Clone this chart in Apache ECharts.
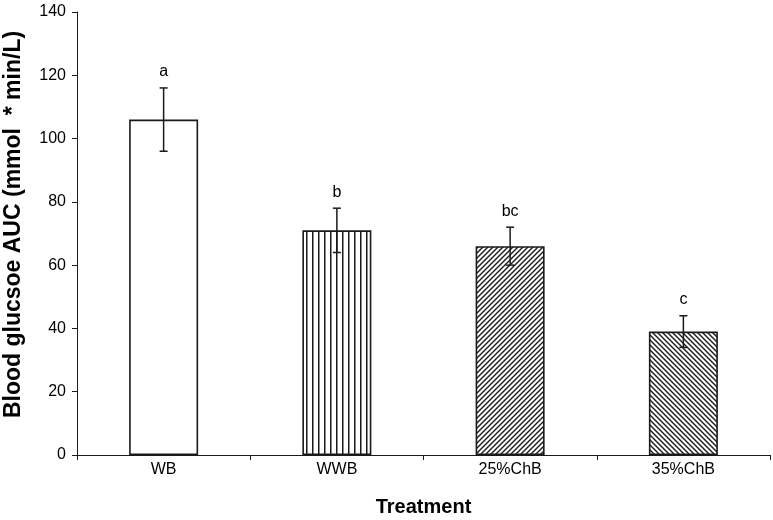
<!DOCTYPE html>
<html>
<head>
<meta charset="utf-8">
<script src="https://cdn.jsdelivr.net/npm/echarts@6/dist/echarts.min.js"></script>
<style>
  html, body { margin: 0; padding: 0; background: #fff; }
  #chart { width: 773px; height: 520px; }
</style>
</head>
<body>
<div id="chart"></div>
<script>
const treatments = ["WB", "WWB", "25%ChB", "35%ChB"];
const auc = [106, 71, 66, 39];
const errors = [10, 7, 6, 5];
const letters = ["a", "b", "bc", "c"];
const patterns = ["none", "vertical", "forward", "backward"];

const ink = "#1a1a1a";
const font = "'Liberation Sans', Arial, sans-serif";

// small canvas tiles for the hatched bars
function hatch(kind) {
  if (kind === "none") return "#ffffff";
  const size = kind === "vertical" ? 6 : 5;
  const c = document.createElement("canvas");
  c.width = size;
  c.height = size;
  const ctx = c.getContext("2d");
  ctx.fillStyle = "#fff";
  ctx.fillRect(0, 0, size, size);
  ctx.strokeStyle = ink;
  ctx.lineWidth = kind === "vertical" ? 1.5 : 1.4;
  ctx.beginPath();
  if (kind === "vertical") {
    ctx.moveTo(0.75, 0);
    ctx.lineTo(0.75, size);
  } else if (kind === "forward") {
    ctx.moveTo(-1, size + 1);
    ctx.lineTo(size + 1, -1);
    ctx.moveTo(-1, 1);
    ctx.lineTo(1, -1);
    ctx.moveTo(size - 1, size + 1);
    ctx.lineTo(size + 1, size - 1);
  } else {
    ctx.moveTo(-1, -1);
    ctx.lineTo(size + 1, size + 1);
    ctx.moveTo(size - 1, -1);
    ctx.lineTo(size + 1, 1);
    ctx.moveTo(-1, size - 1);
    ctx.lineTo(1, size + 1);
  }
  ctx.stroke();
  return { image: c, repeat: "repeat" };
}

const chart = echarts.init(document.getElementById("chart"));

chart.setOption({
  animation: false,
  grid: { left: 77, right: 3, top: 12, bottom: 65, outerBoundsMode: "none" },
  xAxis: {
    type: "category",
    data: treatments,
    name: "Treatment",
    nameLocation: "middle",
    nameGap: 42,
    nameTextStyle: { color: "#000", fontSize: 20, fontWeight: "bold", fontFamily: font },
    axisLine: { lineStyle: { color: ink, width: 1 } },
    axisTick: { show: true, length: 5, lineStyle: { color: ink } },
    axisLabel: { color: "#000", fontSize: 16, fontFamily: font, margin: 7 },
  },
  yAxis: {
    type: "value",
    min: 0,
    max: 140,
    interval: 20,
    name: "Blood glucsoe AUC (mmol  * min/L)",
    nameLocation: "middle",
    nameGap: 52,
    nameTextStyle: {
      color: "#000",
      fontSize: 23,
      fontWeight: "bold",
      fontFamily: font,
      padding: [0, 0, 0, 18],
    },
    axisLine: { show: true, lineStyle: { color: ink, width: 1 } },
    axisTick: { show: true, length: 5, lineStyle: { color: ink } },
    axisLabel: { color: "#000", fontSize: 16, fontFamily: font, margin: 11 },
    splitLine: { show: false },
  },
  series: [
    {
      type: "bar",
      barWidth: 69,
      data: auc.map((v, i) => ({
        value: v,
        itemStyle: { color: hatch(patterns[i]) },
      })),
      itemStyle: { borderColor: ink, borderWidth: 1.6 },
    },
    {
      type: "custom",
      data: auc.map((v, i) => [i, v, errors[i]]),
      renderItem: (params, api) => {
        const x = api.coord([api.value(0), 0])[0];
        const hi = api.coord([api.value(0), api.value(1) + api.value(2)])[1];
        const lo = api.coord([api.value(0), api.value(1) - api.value(2)])[1];
        const cap = 4;
        const stroke = { stroke: ink, lineWidth: 1.5 };
        return {
          type: "group",
          children: [
            { type: "line", shape: { x1: x, y1: hi, x2: x, y2: lo }, style: stroke },
            { type: "line", shape: { x1: x - cap, y1: hi, x2: x + cap, y2: hi }, style: stroke },
            { type: "line", shape: { x1: x - cap, y1: lo, x2: x + cap, y2: lo }, style: stroke },
            {
              type: "text",
              style: {
                x: x,
                y: hi - 8,
                text: letters[params.dataIndex],
                fill: "#000",
                font: "16px " + font,
                align: "center",
                verticalAlign: "bottom",
              },
            },
          ],
        };
      },
      z: 5,
    },
  ],
});
</script>
</body>
</html>
